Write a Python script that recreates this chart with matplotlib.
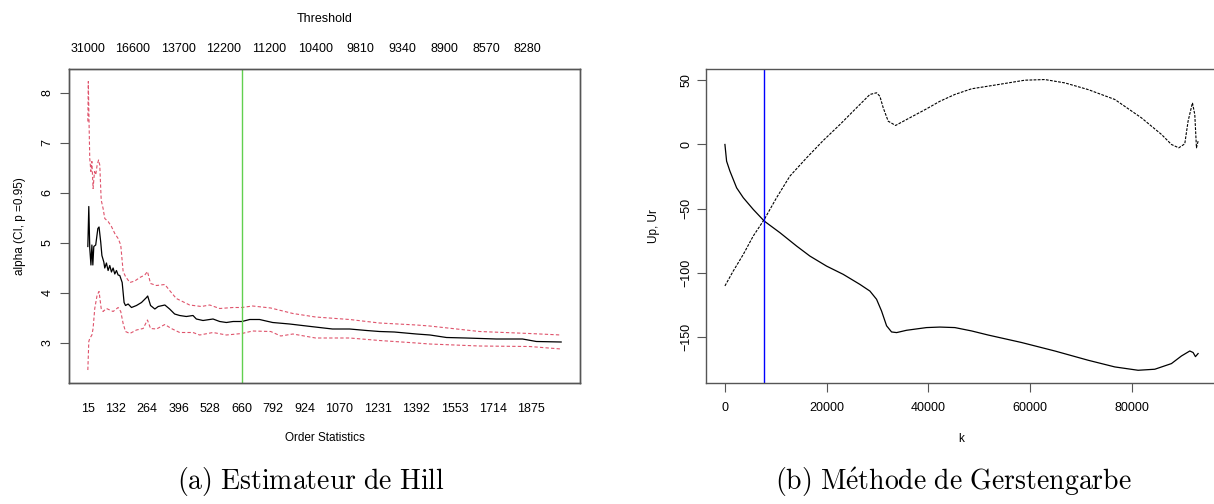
import matplotlib
matplotlib.use("Agg")
import matplotlib.pyplot as plt

plt.rcParams["font.family"] = ["Liberation Sans", "DejaVu Sans"]
plt.rcParams["mathtext.fontset"] = "cm"

# --- (a) Hill estimator ---
hill_k = [15, 19, 23, 28, 32, 36, 40, 48, 57, 62, 69, 74, 82, 86, 93, 100, 107, 114,
          121, 128, 135, 142, 149, 159, 167, 173, 184, 198, 219, 240, 261, 266, 278,
          296, 310, 338, 358, 379, 400, 428, 456, 470, 498, 540, 568, 596, 624, 661,
          694, 735, 790, 861, 950, 1041, 1113, 1184, 1238, 1300, 1393, 1450, 1519,
          1600, 1728, 1838, 1896, 2000]
hill_alpha = [4.93, 5.73, 4.90, 4.56, 4.96, 4.56, 4.93, 4.96, 5.29, 5.32, 5.02, 4.75,
              4.62, 4.50, 4.60, 4.45, 4.55, 4.42, 4.50, 4.38, 4.45, 4.36, 4.35, 4.21,
              3.81, 3.75, 3.78, 3.71, 3.75, 3.81, 3.91, 3.94, 3.75, 3.68, 3.73, 3.76,
              3.68, 3.58, 3.55, 3.53, 3.55, 3.48, 3.45, 3.48, 3.43, 3.41, 3.43, 3.43,
              3.47, 3.47, 3.41, 3.38, 3.33, 3.28, 3.28, 3.25, 3.23, 3.22, 3.18, 3.16,
              3.11, 3.10, 3.08, 3.08, 3.03, 3.02]

upper_k = [15, 17, 20, 23, 28, 32, 37, 43, 48, 54, 60, 65, 71, 79, 86, 100, 114, 128,
           142, 153, 163, 173, 191, 212, 233, 254, 265, 278, 303, 338, 358, 386, 442,
           491, 526, 568, 624, 661, 706, 782, 875, 970, 1113, 1238, 1393, 1448, 1657,
           1867, 2000]
upper_ci = [7.43, 8.23, 7.43, 6.69, 6.43, 6.63, 6.09, 6.43, 6.36, 6.56, 6.66, 6.56,
            5.86, 5.69, 5.49, 5.43, 5.33, 5.19, 5.09, 4.96, 4.43, 4.33, 4.21, 4.24,
            4.31, 4.36, 4.43, 4.19, 4.15, 4.17, 4.05, 3.89, 3.76, 3.73, 3.76, 3.69,
            3.71, 3.71, 3.74, 3.70, 3.59, 3.52, 3.47, 3.40, 3.36, 3.34, 3.23, 3.19, 3.16]

lower_k = [15, 19, 23, 32, 37, 44, 54, 62, 71, 79, 93, 107, 121, 142, 153, 163, 173,
           191, 219, 247, 265, 278, 303, 338, 365, 400, 456, 484, 540, 596, 661, 706,
           782, 824, 875, 970, 1113, 1238, 1393, 1448, 1657, 1867, 2000]
lower_ci = [2.46, 3.03, 3.09, 3.16, 3.29, 3.69, 3.96, 4.03, 3.69, 3.63, 3.69, 3.66,
            3.63, 3.71, 3.63, 3.39, 3.23, 3.19, 3.26, 3.29, 3.46, 3.29, 3.28, 3.37,
            3.29, 3.21, 3.21, 3.16, 3.21, 3.16, 3.19, 3.24, 3.23, 3.14, 3.18, 3.10,
            3.10, 3.05, 3.00, 2.98, 2.94, 2.93, 2.88]

k_chosen = 660
order_ticks = [15, 132, 264, 396, 528, 660, 792, 924, 1070, 1231, 1392, 1553, 1714, 1875]
threshold_pos = [15, 203, 396, 584, 777, 970, 1159, 1335, 1511, 1687, 1858]
threshold_labels = ["31000", "16600", "13700", "12200", "11200", "10400", "9810",
                    "9340", "8900", "8570", "8280"]

# --- (b) Gerstengarbe ---
k_up = [0, 330, 980, 2300, 3610, 5570, 7740, 10820, 14100, 16720, 20000, 23270, 26550,
        28520, 29830, 30810, 31800, 32780, 33770, 35730, 39660, 42280, 45230, 48510,
        51790, 58340, 64900, 71450, 76700, 81280, 84560, 87840, 89800, 91450, 92100,
        92560, 93080]
up = [0, -13, -20.7, -33.7, -41.4, -50.5, -59.6, -68.6, -79, -86.8, -94.6, -101,
      -108.8, -114, -120.4, -129.5, -141, -145.8, -146.3, -144.5, -142.4, -142, -142.4,
      -145, -148.2, -154, -160.6, -167.8, -173, -175.6, -174.8, -170.4, -164.5, -160.6,
      -161.8, -165, -162.6]
k_ur = [0, 1640, 3610, 5570, 7740, 10160, 12780, 16060, 19340, 22620, 25890, 28520,
        29830, 30480, 31140, 32120, 33570, 35730, 39660, 42280, 45230, 48510, 53750,
        59000, 62930, 66860, 71450, 76700, 81940, 85880, 87840, 89280, 90460, 91110,
        91970, 92430, 92760, 93080]
ur = [-110, -98.4, -85.5, -71.2, -58.3, -41.4, -24.6, -10.4, 3.1, 15.5, 28.5, 38.9,
      40.2, 37.5, 28.5, 18.1, 14.8, 19.4, 27.7, 33.6, 38.9, 43.3, 46.6, 50, 50.5, 47.9,
      42.7, 35, 20.7, 7.8, 0, -2.6, 0.5, 18.1, 32.4, 23.3, -2.6, 2.6]
k_cross = 7700

W, H = 1214, 504
fig = plt.figure(figsize=(W / 100, H / 100), dpi=100)


def box(x0, x1, y0, y1):
    return [x0 / W, 1 - y1 / H, (x1 - x0) / W, (y1 - y0) / H]


frame = "#555555"

ax1 = fig.add_axes(box(69, 580, 69, 383))
ax1.plot(hill_k, hill_alpha, color="black", lw=0.9)
ax1.plot(upper_k, upper_ci, color="#DF536B", lw=0.8, dashes=(3, 2))
ax1.plot(lower_k, lower_ci, color="#DF536B", lw=0.8, dashes=(3, 2))
ax1.axvline(k_chosen, color="#61D04F", lw=1)
ax1.set_xlim(-64, 2079)
ax1.set_ylim(2.2, 8.48)
ax1.set_xticks(order_ticks)
ax1.set_xticklabels([str(t) for t in order_ticks])
ax1.tick_params(axis="x", length=0, pad=14.5, labelsize=9)
ax1.set_yticks([3, 4, 5, 6, 7, 8])
ax1.tick_params(axis="y", length=6.5, pad=4.5, labelsize=9, color=frame)
for lab in ax1.get_yticklabels():
    lab.set_rotation(90)
    lab.set_va("center")
ax1.set_xlabel("Order Statistics", fontsize=8.5, labelpad=12)
ax1.set_ylabel("alpha (CI, p =0.95)", fontsize=8.5, labelpad=11)

top = ax1.twiny()
top.set_xlim(ax1.get_xlim())
top.set_xticks(threshold_pos)
top.set_xticklabels(threshold_labels)
top.tick_params(axis="x", length=0, pad=10, labelsize=9)
top.set_xlabel("Threshold", fontsize=9, labelpad=15)

for a in (ax1, top):
    for s in a.spines.values():
        s.set_color(frame)
        s.set_linewidth(1)

ax2 = fig.add_axes(box(706, 1217, 69, 383))
ax2.plot(k_up, up, color="black", lw=0.9)
ax2.plot(k_ur, ur, color="black", lw=0.8, dashes=(2.5, 1.2))
ax2.axvline(k_cross, color="blue", lw=1)
ax2.set_xlim(-3723, 96800)
ax2.set_ylim(-185.5, 58.7)
ax2.set_xticks([0, 20000, 40000, 60000, 80000])
ax2.set_yticks([50, 0, -50, -100, -150])
ax2.tick_params(axis="both", length=6.5, labelsize=9, color=frame)
ax2.tick_params(axis="x", pad=7)
ax2.tick_params(axis="y", pad=3.5)
for lab in ax2.get_yticklabels():
    lab.set_rotation(90)
    lab.set_va("center")
ax2.set_xlabel("k", fontsize=8.5, labelpad=13.5)
ax2.set_ylabel("Up, Ur", fontsize=8.5, labelpad=14.5)
for s in ax2.spines.values():
    s.set_color(frame)
    s.set_linewidth(1)

fig.text(311 / W, 1 - 482 / H, r"$\mathrm{(a)\ Estimateur\ de\ Hill}$",
         ha="center", va="center", fontsize=20)
fig.text(953 / W, 1 - 482 / H, r"$\mathrm{(b)\ M\acute{e}thode\ de\ Gerstengarbe}$",
         ha="center", va="center", fontsize=20)

fig.savefig("out.png", dpi=100)
